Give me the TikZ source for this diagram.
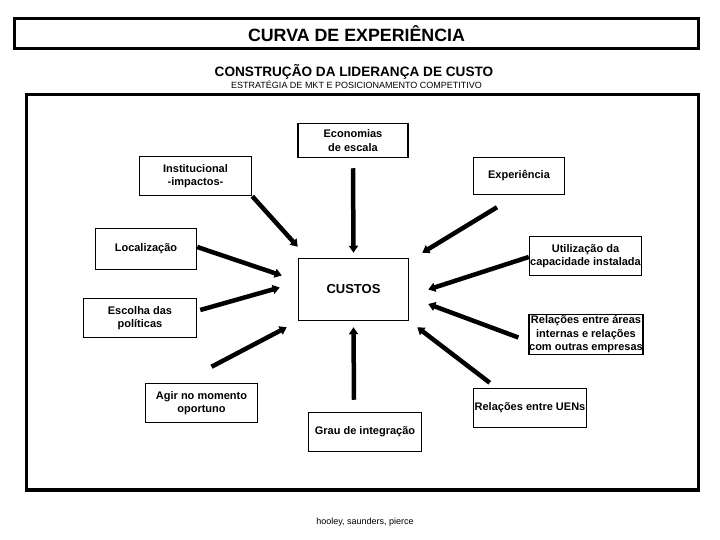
\documentclass[tikz,border=0pt]{standalone}
\usepackage{fontspec}
\setmainfont{Liberation Sans}
\usetikzlibrary{arrows.meta,calc}
\begin{document}
\begin{tikzpicture}[x=1pt,y=-1pt]
\tikzstyle{every node}+=[inner sep=0pt]
\tikzstyle{box}=[draw=black,line width=1.5pt,align=center,font=\fontsize{11}{13.5}\selectfont\bfseries]
\tikzstyle{arr}=[line width=4.5pt,-{Triangle[length=7pt,width=9pt]}]
\useasboundingbox (0,0) rectangle (720,540);
% headings
\node [draw=black,line width=2.5pt,minimum width=684,minimum height=30,font=\fontsize{17.8}{20}\selectfont\bfseries] (title) at (356.5,33.5) {CURVA DE EXPERIÊNCIA};
\node [font=\fontsize{13.6}{15}\selectfont\bfseries] (sub) at (354,72) {CONSTRUÇÃO DA LIDERANÇA DE CUSTO};
\node [font=\fontsize{9}{10}\selectfont] (subsmall) at (356.5,84.5) {ESTRATÉGIA DE MKT E POSICIONAMENTO COMPETITIVO};
\draw [black,line width=3.5pt] (26.5,94.5) rectangle (698.5,490);
% boxes
\node [box,minimum width=110,minimum height=34] (econ) at (353,140.5) {Economias\\de escala};
\node [box,minimum width=112,minimum height=39] (inst) at (195.5,176) {Institucional\\-impactos-};
\node [box,minimum width=91,minimum height=37] (exper) at (519,176) {Experiência};
\node [box,minimum width=101,minimum height=41] (local) at (146,249) {Localização};
\node [box,minimum width=112,minimum height=39] (util) at (585.5,256) {Utilização da\\capacidade instalada};
\node [box,minimum width=110,minimum height=62,font=\fontsize{13}{15}\selectfont\bfseries] (cost) at (353.5,289.5) {CUSTOS};
\node [box,minimum width=113,minimum height=39] (escolha) at (140,318) {Escolha das\\políticas};
\node [box,minimum width=113,minimum height=40] (areas) at (586,334.5) {Relações entre áreas\\internas e relações\\com outras empresas};
\node [box,minimum width=112,minimum height=39] (agir) at (201.5,403) {Agir no momento\\oportuno};
\node [box,minimum width=113,minimum height=39] (uens) at (530,408) {Relações entre UENs};
\node [box,minimum width=113,minimum height=39] (grau) at (365,432) {Grau de integração};
\node [font=\fontsize{9}{10}\selectfont] (fonte) at (365,522) {hooley, saunders, pierce};
% arrows
\draw [arr] ($(econ.south)+(0,10)$) -- ($(cost.north)+(0,-5)$);
\draw [arr] (inst.south east) -- ($(cost.north west)+(0,-11)$);
\draw [arr] ($(local.east)+(0,-2)$) -- ($(cost.west)+(-16,-14)$);
\draw [arr] ($(exper.south)+(-22,12)$) -- ($(cost.north east)+(13,-5)$);
\draw [arr] ($(util.west)+(0,1)$) -- ($(cost.east)+(19,0)$);
\draw [arr] ($(escolha.east)+(3,-8)$) -- ($(cost.west)+(-18,-2)$);
\draw [arr] ($(agir.north)+(10,-16)$) -- ($(cost.south west)+(-11,6)$);
\draw [arr] ($(grau.north)+(-11,-12)$) -- ($(cost.south)+(0,6)$);
\draw [arr] ($(areas.west)+(-10,3)$) -- ($(cost.east)+(19,14.5)$);
\draw [arr] ($(uens.north west)+(17,-5)$) -- ($(cost.south east)+(8,6)$);
\end{tikzpicture}
\end{document}
